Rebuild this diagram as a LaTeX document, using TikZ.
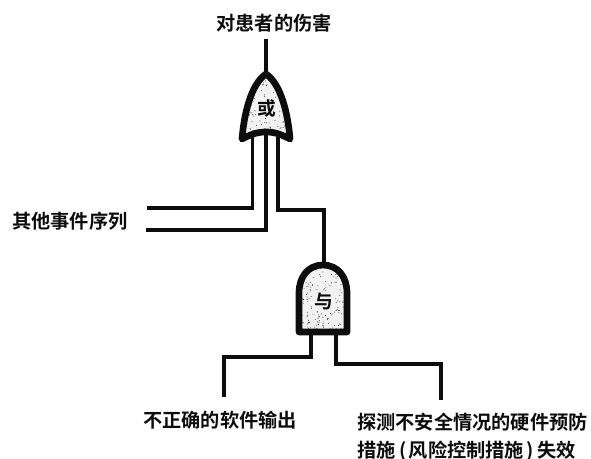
\documentclass[tikz,border=0pt]{standalone}
\usepackage{fontspec}
\setmainfont{Noto Sans CJK SC}[BoldFont={* Bold}]
\usepackage{tikz}
\usetikzlibrary{positioning}
\definecolor{gateink}{gray}{0.05}
\definecolor{gatefill}{gray}{0.95}
\tikzset{
  wire/.style={draw=gateink, line width=2.7pt, line join=miter},
  gatebody/.style={draw=gateink, line width=5pt, line join=round},
  gatelabel/.style={inner sep=0pt, font=\fontsize{14pt}{16pt}\selectfont\bfseries, text=gateink},
  caption/.style={inner sep=0pt, font=\fontsize{14.4pt}{20.5pt}\selectfont\bfseries, text=gateink, align=left}
}
\newcommand{\orshape}{(266,74) .. controls (281,84) and (288,114) .. (290,139)
  .. controls (282,135) and (276,132) .. (266,132)
  .. controls (256,132) and (250,135) .. (242,139)
  .. controls (244,114) and (251,84) .. cycle}
\newcommand{\andshape}{(323,265) .. controls (338,265) and (347,277) .. (347,293)
  -- (347,332) -- (299,332) -- (299,293)
  .. controls (299,277) and (308,265) .. cycle}
\begin{document}
\begin{tikzpicture}[x=0.75pt,y=-0.75pt]
\useasboundingbox (0,0) rectangle (591,459);

% free ends of the connectors
\coordinate (topend) at (266,39);
\coordinate (sideone) at (147,208);
\coordinate (sidetwo) at (146,230);
\coordinate (softend) at (224,397);
\coordinate (hardend) at (441,400);

% the wires go in first, the gates lie over them
\coordinate (orapex) at (266,75);
\coordinate (andapex) at (324,265);
\coordinate (orleft) at (252.5,137);
\coordinate (ormid) at (266,134);
\coordinate (orright) at (278,137);
\coordinate (andleft) at (311,332);
\coordinate (andright) at (336,332);

\draw[wire] (topend) -- (orapex);
\draw[wire] (sideone) -| (orleft);
\draw[wire] (sidetwo) -| (ormid);
\draw[wire] (andapex) |- (orright |- 0,210) -- (orright);
\draw[wire] (softend) |- (andleft |- 0,357) -- (andleft);
\draw[wire] (hardend) |- (andright |- 0,364) -- (andright);

% or gate
\fill[gatefill] \orshape;
\begin{scope}
\clip \orshape;
\pgfmathsetseed{41}
\foreach \i in {1,...,170}
  \fill[gateink] ({240+rnd*52},{75+rnd*62}) circle (0.45);
\end{scope}
\draw[gatebody] \orshape;
\node[gatelabel, fill=gatefill, inner sep=1pt] (orgate) at (267,108) {或};

% and gate
\fill[gatefill] \andshape;
\begin{scope}
\clip \andshape;
\pgfmathsetseed{17}
\foreach \i in {1,...,190}
  \fill[gateink] ({299+rnd*48},{265+rnd*67}) circle (0.45);
\end{scope}
\draw[gatebody] \andshape;
\node[gatelabel, fill=gatefill, inner sep=1pt] (andgate) at (324,301) {与};

\node[caption] (harm) at (274,23) {对患者的伤害};
\node[caption, anchor=west] (other) at (12,221) {其他事件序列};
\node[caption, anchor=west] (soft) at (143,420) {不正确的软件输出};
\node[caption, anchor=north west] (hard) at (357,413) {探测不安全情况的硬件预防\\措施\hspace{3pt}(\hspace{1.5pt}风险控制措施\hspace{1.5pt})\hspace{3pt}失效};

\end{tikzpicture}
\end{document}
